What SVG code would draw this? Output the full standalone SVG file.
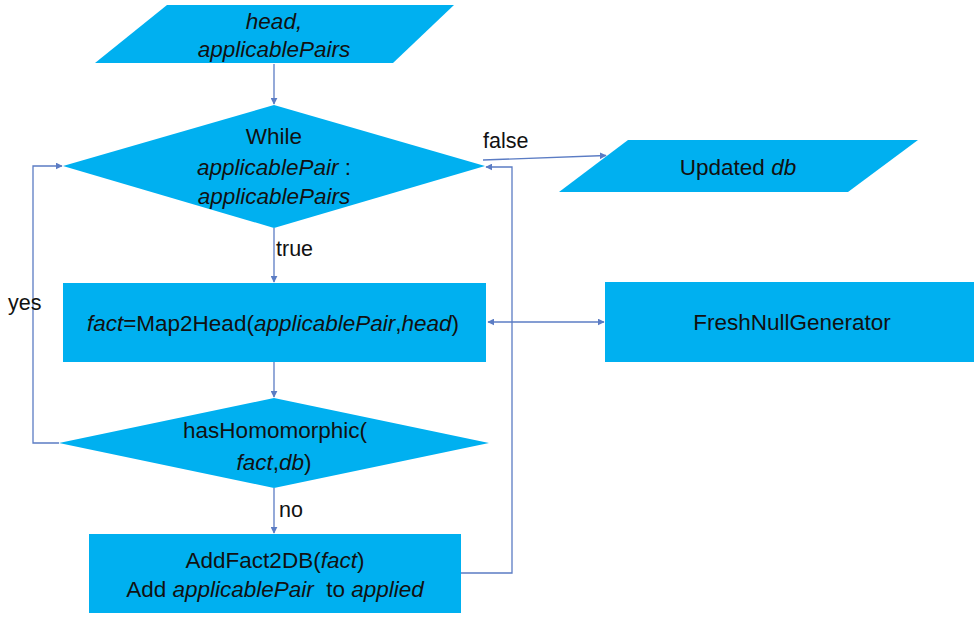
<svg xmlns="http://www.w3.org/2000/svg" width="974" height="617" viewBox="0 0 974 617">
  <style>
    .shape { fill: #00B0F0; stroke: none; }
    .lbl { font-family: "Liberation Sans", "Noto Sans", sans-serif; font-size: 22.5px; fill: #111; text-anchor: middle; }
    .edge-lbl { font-family: "Liberation Sans", "Noto Sans", sans-serif; font-size: 21.5px; fill: #111; }
    .it { font-style: italic; }
    .conn { fill: none; stroke: #5B7CC4; stroke-width: 1.3; }
  </style>
  <defs>
    <marker id="arrow" viewBox="0 0 10 10" refX="9" refY="5" markerWidth="7" markerHeight="7" orient="auto-start-reverse" markerUnits="userSpaceOnUse">
      <path d="M0,0 L10,5 L0,10 z" fill="#5B7CC4"/>
    </marker>
  </defs>
  <rect width="974" height="617" fill="#fff"/>

  <!-- connectors -->
  <g id="connectors">
    <line class="conn" x1="274" y1="64" x2="274" y2="104" marker-end="url(#arrow)"/>
    <line class="conn" x1="274" y1="228" x2="274" y2="282" marker-end="url(#arrow)"/>
    <line class="conn" x1="274" y1="362" x2="274" y2="397" marker-end="url(#arrow)"/>
    <line class="conn" x1="274" y1="488" x2="274" y2="533" marker-end="url(#arrow)"/>
    <polyline class="conn" points="59,443 33,443 33,166 62,166" marker-end="url(#arrow)"/>
    <polyline class="conn" points="461,573 512,573 512,167 486,167" marker-end="url(#arrow)"/>
    <line class="conn" x1="483" y1="160" x2="606" y2="155.5" marker-end="url(#arrow)"/>
    <line class="conn" x1="488" y1="322" x2="604" y2="322" marker-start="url(#arrow)" marker-end="url(#arrow)"/>
    <text class="edge-lbl" x="483" y="148">false</text>
    <text class="edge-lbl" x="276" y="256">true</text>
    <text class="edge-lbl" x="8" y="310">yes</text>
    <text class="edge-lbl" x="279" y="517">no</text>
  </g>

  <g id="input">
    <polygon class="shape" points="167,5 454,5 393,63 95,63"/>
    <text class="lbl" x="274" y="29"><tspan class="it">head,</tspan></text>
    <text class="lbl" x="274" y="57"><tspan class="it">applicablePairs</tspan></text>
  </g>

  <g id="loop">
    <polygon class="shape" points="274,105 485,166 274,228 63,166"/>
    <text class="lbl" x="274" y="144">While</text>
    <text class="lbl" x="274" y="175"><tspan class="it">applicablePair</tspan> :</text>
    <text class="lbl" x="274" y="204"><tspan class="it">applicablePairs</tspan></text>
  </g>

  <g id="output">
    <polygon class="shape" points="628,140 918,140 848,192 559,192"/>
    <text class="lbl" x="738" y="175">Updated <tspan class="it">db</tspan></text>
  </g>

  <g id="map2head">
    <rect class="shape" x="63" y="283" width="423" height="79"/>
    <text class="lbl" x="273" y="331"><tspan class="it">fact</tspan>=Map2Head(<tspan class="it">applicablePair</tspan>,<tspan class="it">head</tspan>)</text>
  </g>

  <g id="freshnull">
    <rect class="shape" x="605" y="282" width="369" height="80"/>
    <text class="lbl" x="792" y="330">FreshNullGenerator</text>
  </g>

  <g id="homomorphic">
    <polygon class="shape" points="274,398 489,443 274,488 59,443"/>
    <text class="lbl" x="275" y="438">hasHomomorphic(</text>
    <text class="lbl" x="274" y="470"><tspan class="it">fact</tspan>,<tspan class="it">db</tspan>)</text>
  </g>

  <g id="addfact">
    <rect class="shape" x="89" y="534" width="372" height="79"/>
    <text class="lbl" x="275" y="568">AddFact2DB(<tspan class="it">fact</tspan>)</text>
    <text class="lbl" x="275" y="597" style="white-space:pre">Add <tspan class="it">applicablePair</tspan>  to <tspan class="it">applied</tspan></text>
  </g>
</svg>
